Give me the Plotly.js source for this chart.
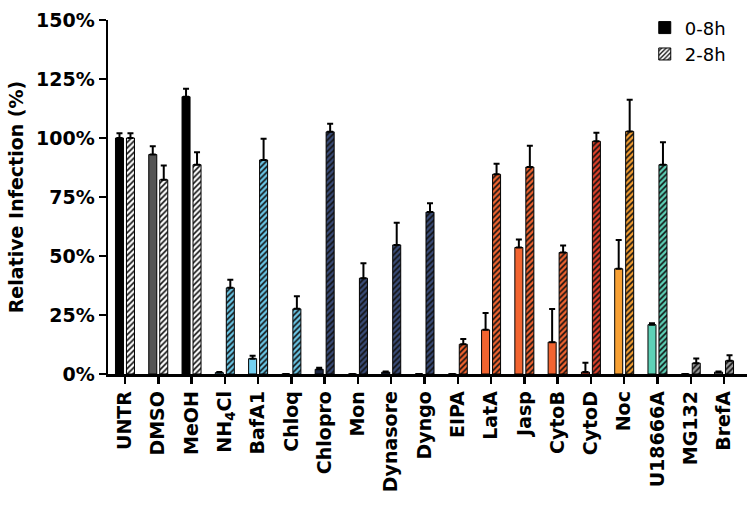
<!DOCTYPE html>
<html>
<head>
<meta charset="utf-8">
<script src="https://cdn.plot.ly/plotly-3.0.1.min.js"></script>
<style>
  html, body { margin: 0; padding: 0; background: #fff; }
  #chart { width: 756px; height: 505px; }
</style>
</head>
<body>
<div id="chart"></div>
<script>
// ---- Data ----
const categories = ['UNTR','DMSO','MeOH','NH<sub>4</sub>Cl','BafA1','Chloq','Chlopro','Mon','Dynasore','Dyngo',
                    'EIPA','LatA','Jasp','CytoB','CytoD','Noc','U18666A','MG132','BrefA'];
const values0to8 = [100, 93, 117.5, 0.6, 6.5, 0, 2, 0, 0.8, 0, 0, 18.7, 53.6, 13.5, 0.8, 44.6, 20.9, 0, 0.8];
const errors0to8 = [2, 3.5, 3.4, 0.3, 1.2, 0, 0.6, 0, 0.3, 0, 0, 7.1, 3.4, 14, 4, 12.2, 0.6, 0, 0.3];
const values2to8 = [100, 82.3, 88.7, 36.5, 90.7, 27.6, 102.6, 40.6, 54.7, 68.6, 12.6, 84.6, 87.7, 51.5, 98.6, 102.8, 88.7, 4.6, 5.6];
const errors2to8 = [2, 6, 5.3, 3.4, 9, 5.3, 3.4, 6.3, 9.4, 3.8, 2.2, 4.5, 9, 2.9, 3.6, 13.4, 9.5, 2, 2.3];
const seriesNames = ['0-8h', '2-8h'];
const yTickVals = [0, 25, 50, 75, 100, 125, 150];
const yTickText = ['0%', '25%', '50%', '75%', '100%', '125%', '150%'];

// ---- Styles ----
const solidColors = ['#000000','#555555','#000000','#74d0f1','#74d0f1','#74d0f1','#1d2743','#1d2743','#1d2743','#1d2743',
                     '#f26430','#f26430','#f26430','#f26430','#e2452c','#f7a033','#5ed1b7','#7a7a7a','#7a7a7a'];
const hatchBg = ['#ffffff','#ffffff','#ffffff','#6cc8e8','#6cc8e8','#6cc8e8','#3a4c78','#3a4c78','#3a4c78','#3a4c78',
                 '#f26430','#f26430','#f26430','#f26430','#e0402a','#f7a033','#5ed1b7','#9a9a9a','#9a9a9a'];

const errStyle = { color: '#000', thickness: 2, width: 3 };

const traces = [
  {
    type: 'bar', name: seriesNames[0], x: categories, y: values0to8,
    offsetgroup: 'a', legendgroup: 'a', legendrank: 1,
    marker: { color: solidColors, line: { color: '#000', width: 1 } },
    error_y: Object.assign({ type: 'data', symmetric: false, array: errors0to8, arrayminus: categories.map(() => 0) }, errStyle),
    hoverinfo: 'skip'
  }
];

// hatched series: one trace per fill colour (pattern colours must be scalar), sharing one offset group
const uniqueHatch = [...new Set(hatchBg)];
uniqueHatch.forEach((col, k) => {
  const idx = categories.map((c, i) => i).filter(i => hatchBg[i] === col);
  traces.push({
    type: 'bar', name: seriesNames[1],
    x: idx.map(i => categories[i]), y: idx.map(i => values2to8[i]),
    offsetgroup: 'b', legendgroup: 'b', showlegend: k === 0, legendrank: 2,
    marker: {
      color: col,
      line: { color: '#000', width: 1 },
      pattern: { shape: '/', bgcolor: col, fgcolor: '#111111', fgopacity: 1, size: 4, solidity: 0.42, fillmode: 'replace' }
    },
    error_y: Object.assign({ type: 'data', symmetric: false, array: idx.map(i => errors2to8[i]), arrayminus: idx.map(() => 0) }, errStyle),
    hoverinfo: 'skip'
  });
});

const tickFont = { family: 'DejaVu Sans, Arial, sans-serif', size: 19, color: '#000', weight: 'bold' };

const layout = {
  width: 756, height: 505,
  margin: { l: 108, r: 9, t: 15, b: 131, pad: 0 },
  paper_bgcolor: '#fff', plot_bgcolor: '#fff',
  barmode: 'group', bargap: 0.34, bargroupgap: 0.27,
  showlegend: true,
  legend: {
    x: 0.84, xanchor: 'left', y: 1.03, yanchor: 'top',
    font: { family: 'DejaVu Sans, Arial, sans-serif', size: 18, color: '#000' },
    bgcolor: 'rgba(0,0,0,0)', tracegroupgap: 0, itemwidth: 30, traceorder: 'normal'
  },
  xaxis: {
    type: 'category', categoryorder: 'array', categoryarray: categories,
    range: [-0.51, 18.69], fixedrange: true,
    showline: true, linecolor: '#000', linewidth: 2.5,
    ticks: 'outside', ticklen: 7, tickwidth: 2.5, tickcolor: '#000',
    tickangle: -90, tickfont: tickFont, showgrid: false, zeroline: false, automargin: false
  },
  yaxis: {
    range: [0, 150], fixedrange: true,
    tickvals: yTickVals, ticktext: yTickText,
    showline: true, linecolor: '#000', linewidth: 2.5,
    ticks: 'outside', ticklen: 7, tickwidth: 2.5, tickcolor: '#000',
    tickfont: tickFont, showgrid: false, zeroline: false, automargin: false,
    title: { text: 'Relative Infection (%)', font: { family: 'DejaVu Sans, Arial, sans-serif', size: 19, color: '#000', weight: 'bold' }, standoff: 8 }
  }
};

Plotly.newPlot('chart', traces, layout, { displayModeBar: false, staticPlot: true });
</script>
</body>
</html>
